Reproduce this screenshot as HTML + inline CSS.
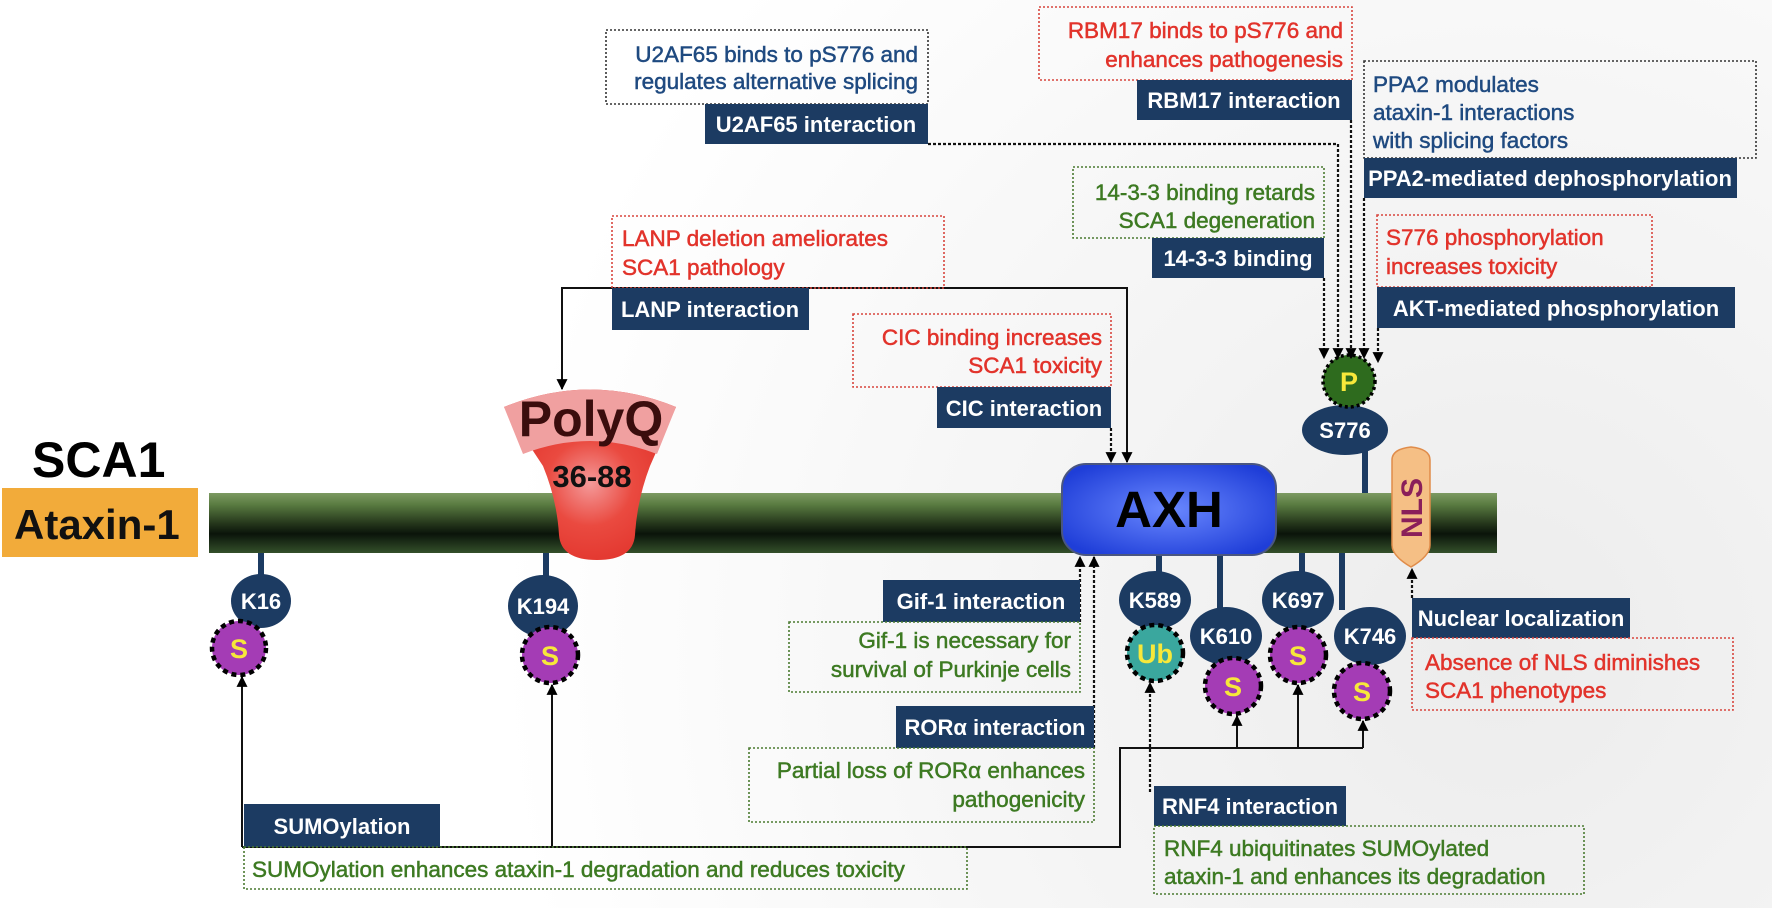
<!DOCTYPE html>
<html><head><meta charset="utf-8"><style>
html,body{margin:0;padding:0;width:1772px;height:908px;overflow:hidden;background:#fff}
svg{display:block}
text{font-family:"Liberation Sans",Arial,sans-serif}
.lb{font-weight:bold;font-size:22px;fill:#fff;text-anchor:middle}
.tx{font-size:22.5px;stroke-width:0.5px}
.r{fill:#e2332b;stroke:#e2332b}.g{fill:#3d7a22;stroke:#3d7a22}.b{fill:#1f4a80;stroke:#1f4a80}
.nv{fill:#1c3b62}
.kt{font-weight:bold;font-size:22px;fill:#fff;text-anchor:middle}
.mt{font-weight:bold;font-size:27px;fill:#f7e83a;text-anchor:middle}
.dr{fill:none;stroke:#d8453d;stroke-width:1.6;stroke-dasharray:2 2}
.dg{fill:none;stroke:#4a7a30;stroke-width:1.6;stroke-dasharray:2 2}
.db{fill:none;stroke:#333;stroke-width:1.6;stroke-dasharray:2 2}
.sl{fill:none;stroke:#111;stroke-width:2}
.dl{fill:none;stroke:#111;stroke-width:2.2;stroke-dasharray:3 2}
.st{stroke:#1c3b62;stroke-width:6}
.mod{stroke:#000;stroke-width:4.5;stroke-dasharray:5 4}
</style></head><body>
<svg width="1772" height="908" viewBox="0 0 1772 908" xmlns="http://www.w3.org/2000/svg">
<defs>
<radialGradient id="bg" cx="1500" cy="650" r="1000" gradientUnits="userSpaceOnUse">
<stop offset="0" stop-color="#ececec"/><stop offset="0.6" stop-color="#f7f7f7"/><stop offset="1" stop-color="#ffffff"/></radialGradient>
<linearGradient id="bar" x1="0" y1="0" x2="0" y2="1">
<stop offset="0" stop-color="#7c9a62"/><stop offset="0.2" stop-color="#587a40"/><stop offset="0.5" stop-color="#26381c"/><stop offset="0.68" stop-color="#0a140a"/><stop offset="1" stop-color="#34502a"/></linearGradient>
<radialGradient id="axh" cx="0.5" cy="0.5" r="0.6">
<stop offset="0" stop-color="#6a88ff"/><stop offset="1" stop-color="#1f3ed8"/></radialGradient>
<radialGradient id="red" cx="0.5" cy="0.55" r="0.5">
<stop offset="0" stop-color="#f49a9a"/><stop offset="0.5" stop-color="#ea4a40"/><stop offset="1" stop-color="#e2352d"/></radialGradient>
<marker id="ah2" viewBox="0 0 10 10" refX="9" refY="5" markerWidth="11" markerHeight="11" orient="auto" markerUnits="userSpaceOnUse">
<path d="M0,0 L10,5 L0,10 Z" fill="#000"/></marker>
</defs>
<rect width="1772" height="908" fill="url(#bg)"/>

<text x="32" y="477" font-weight="bold" font-size="50" fill="#000">SCA1</text>
<rect x="2" y="488" width="196" height="69" fill="#f2ab3a"/>
<text x="14" y="539" font-weight="bold" font-size="42" fill="#111">Ataxin-1</text>

<rect x="209" y="493" width="1288" height="60" fill="url(#bar)"/>

<line class="st" x1="261" y1="553" x2="261" y2="580"/>
<line class="st" x1="546" y1="553" x2="546" y2="580"/>
<line class="st" x1="1159" y1="553" x2="1159" y2="575"/>
<line class="st" x1="1220" y1="553" x2="1220" y2="610"/>
<line class="st" x1="1302" y1="553" x2="1302" y2="575"/>
<line class="st" x1="1342" y1="553" x2="1342" y2="610"/>
<line class="st" x1="1365" y1="450" x2="1365" y2="493"/>

<path d="M504,407 Q590,372 676,407 L650,466 Q637,500 635,535 Q633,560 597,560 Q561,560 559,535 Q557,500 543,466 Z" fill="url(#red)"/>
<path d="M504,407 Q590,372 676,407 L657,454 Q590,428 523,454 Z" fill="#f0a0a0"/>
<text x="591" y="436" font-weight="bold" font-size="50" fill="#3b0d0d" text-anchor="middle">PolyQ</text>
<text x="592" y="487" font-weight="bold" font-size="31" fill="#111" text-anchor="middle">36-88</text>

<rect x="1062" y="464" width="214" height="91" rx="24" fill="url(#axh)" stroke="#4a5680" stroke-width="2"/>
<text x="1169" y="527" font-weight="bold" font-size="51" fill="#000" text-anchor="middle">AXH</text>

<path d="M1392,460 Q1392,449 1411,447 Q1430,449 1430,460 L1430,545 Q1430,556 1411,567 Q1392,556 1392,545 Z" fill="#f5bf85" stroke="#e08c4a" stroke-width="1.5"/>
<text x="0" y="0" transform="translate(1422,508) rotate(-90)" font-weight="bold" font-size="30" fill="#8a1f5a" text-anchor="middle">NLS</text>

<ellipse class="nv" cx="261" cy="601" rx="30" ry="27"/><text class="kt" x="261" y="609">K16</text>
<ellipse class="nv" cx="543" cy="606" rx="35" ry="31"/><text class="kt" x="543" y="614">K194</text>
<ellipse class="nv" cx="1155" cy="600" rx="36" ry="29"/><text class="kt" x="1155" y="608">K589</text>
<ellipse class="nv" cx="1226" cy="636" rx="36" ry="29"/><text class="kt" x="1226" y="644">K610</text>
<ellipse class="nv" cx="1298" cy="600" rx="36" ry="29"/><text class="kt" x="1298" y="608">K697</text>
<ellipse class="nv" cx="1370" cy="636" rx="36" ry="29"/><text class="kt" x="1370" y="644">K746</text>
<ellipse class="nv" cx="1345" cy="430" rx="43" ry="25"/><text class="kt" x="1345" y="438">S776</text>

<circle class="mod" cx="239" cy="648" r="27" fill="#a43cb5"/><text class="mt" x="239" y="658">S</text>
<circle class="mod" cx="550" cy="655" r="28" fill="#a43cb5"/><text class="mt" x="550" y="665">S</text>
<circle class="mod" cx="1155" cy="653" r="28" fill="#3aa79e"/><text class="mt" x="1155" y="663">Ub</text>
<circle class="mod" cx="1233" cy="686" r="28" fill="#a43cb5"/><text class="mt" x="1233" y="696">S</text>
<circle class="mod" cx="1298" cy="655" r="28" fill="#a43cb5"/><text class="mt" x="1298" y="665">S</text>
<circle class="mod" cx="1362" cy="691" r="28" fill="#a43cb5"/><text class="mt" x="1362" y="701">S</text>
<circle cx="1349" cy="381" r="26" fill="#2e6b1e" stroke="#000" stroke-width="3.5" stroke-dasharray="3 3"/><text class="mt" x="1349" y="391">P</text>

<path class="sl" d="M800,288 L562,288 L562,389" marker-end="url(#ah2)"/>
<path class="sl" d="M800,288 L1127,288 L1127,462" marker-end="url(#ah2)"/>
<path class="dl" d="M1111,428 L1111,462" marker-end="url(#ah2)"/>
<path class="dl" d="M1080,622 L1080,557" marker-end="url(#ah2)"/>
<path class="dl" d="M1094,748 L1094,557" marker-end="url(#ah2)"/>
<path class="dl" d="M928,144 L1338,144 L1338,358" marker-end="url(#ah2)"/>
<path class="dl" d="M1324,278 L1324,358" marker-end="url(#ah2)"/>
<path class="dl" d="M1351,120 L1351,358" marker-end="url(#ah2)"/>
<path class="dl" d="M1364,198 L1364,358" marker-end="url(#ah2)"/>
<path class="dl" d="M1378,328 L1378,362" marker-end="url(#ah2)"/>
<path class="sl" d="M242,847 L242,677" marker-end="url(#ah2)"/>
<path class="sl" d="M552,847 L552,685" marker-end="url(#ah2)"/>
<path class="sl" d="M242,847 L1120,847 L1120,748 L1363,748"/>
<path class="sl" d="M1237,748 L1237,716" marker-end="url(#ah2)"/>
<path class="sl" d="M1298,748 L1298,685" marker-end="url(#ah2)"/>
<path class="sl" d="M1363,748 L1363,721" marker-end="url(#ah2)"/>
<path class="dl" d="M1150,792 L1150,683" marker-end="url(#ah2)"/>
<path class="dl" d="M1412,598 L1412,569" marker-end="url(#ah2)"/>

<rect class="db" x="606" y="30" width="322" height="74"/>
<text class="tx b" x="918" y="62" text-anchor="end">U2AF65 binds to pS776 and</text>
<text class="tx b" x="918" y="89" text-anchor="end">regulates alternative splicing</text>
<rect class="nv" x="705" y="104" width="223" height="40"/><text class="lb" x="816" y="132">U2AF65 interaction</text>

<rect class="dr" x="1039" y="7" width="313" height="73"/>
<text class="tx r" x="1343" y="38" text-anchor="end">RBM17 binds to pS776 and</text>
<text class="tx r" x="1343" y="67" text-anchor="end">enhances pathogenesis</text>
<rect class="nv" x="1137" y="80" width="215" height="40"/><text class="lb" x="1244" y="108">RBM17 interaction</text>

<rect class="db" x="1364" y="61" width="392" height="97"/>
<text class="tx b" x="1373" y="92">PPA2 modulates</text>
<text class="tx b" x="1373" y="120">ataxin-1 interactions</text>
<text class="tx b" x="1373" y="148">with splicing factors</text>
<rect class="nv" x="1364" y="158" width="373" height="40"/><text class="lb" x="1550" y="186">PPA2-mediated dephosphorylation</text>

<rect class="dg" x="1073" y="167" width="251" height="71"/>
<text class="tx g" x="1315" y="200" text-anchor="end">14-3-3 binding retards</text>
<text class="tx g" x="1315" y="228" text-anchor="end">SCA1 degeneration</text>
<rect class="nv" x="1152" y="238" width="172" height="40"/><text class="lb" x="1238" y="266">14-3-3 binding</text>

<rect class="dr" x="1377" y="215" width="275" height="72"/>
<text class="tx r" x="1386" y="245">S776 phosphorylation</text>
<text class="tx r" x="1386" y="274">increases toxicity</text>
<rect class="nv" x="1377" y="287" width="358" height="41"/><text class="lb" x="1556" y="316">AKT-mediated phosphorylation</text>

<rect class="dr" x="612" y="216" width="332" height="72"/>
<text class="tx r" x="622" y="246">LANP deletion ameliorates</text>
<text class="tx r" x="622" y="275">SCA1 pathology</text>
<rect class="nv" x="612" y="288" width="197" height="42"/><text class="lb" x="710" y="317">LANP interaction</text>

<rect class="dr" x="853" y="314" width="258" height="73"/>
<text class="tx r" x="1102" y="345" text-anchor="end">CIC binding increases</text>
<text class="tx r" x="1102" y="373" text-anchor="end">SCA1 toxicity</text>
<rect class="nv" x="937" y="387" width="174" height="41"/><text class="lb" x="1024" y="416">CIC interaction</text>

<rect class="nv" x="883" y="580" width="197" height="42"/><text class="lb" x="981" y="609">Gif-1 interaction</text>
<rect class="dg" x="789" y="622" width="291" height="70"/>
<text class="tx g" x="1071" y="648" text-anchor="end">Gif-1 is necessary for</text>
<text class="tx g" x="1071" y="677" text-anchor="end">survival of Purkinje cells</text>

<rect class="nv" x="896" y="706" width="198" height="42"/><text class="lb" x="995" y="735">RORα interaction</text>
<rect class="dg" x="749" y="748" width="345" height="74"/>
<text class="tx g" x="1085" y="778" text-anchor="end">Partial loss of RORα enhances</text>
<text class="tx g" x="1085" y="807" text-anchor="end">pathogenicity</text>

<rect class="nv" x="244" y="804" width="196" height="43"/><text class="lb" x="342" y="834">SUMOylation</text>
<rect class="dg" x="244" y="847" width="723" height="42"/>
<text class="tx g" x="252" y="877">SUMOylation enhances ataxin-1 degradation and reduces toxicity</text>

<rect class="nv" x="1154" y="786" width="192" height="40"/><text class="lb" x="1250" y="814">RNF4 interaction</text>
<rect class="dg" x="1154" y="826" width="430" height="68"/>
<text class="tx g" x="1164" y="856">RNF4 ubiquitinates SUMOylated</text>
<text class="tx g" x="1164" y="884">ataxin-1 and enhances its degradation</text>

<rect class="nv" x="1412" y="598" width="218" height="40"/><text class="lb" x="1521" y="626">Nuclear localization</text>
<rect class="dr" x="1412" y="638" width="321" height="72"/>
<text class="tx r" x="1425" y="670">Absence of NLS diminishes</text>
<text class="tx r" x="1425" y="698">SCA1 phenotypes</text>
</svg>
</body></html>
